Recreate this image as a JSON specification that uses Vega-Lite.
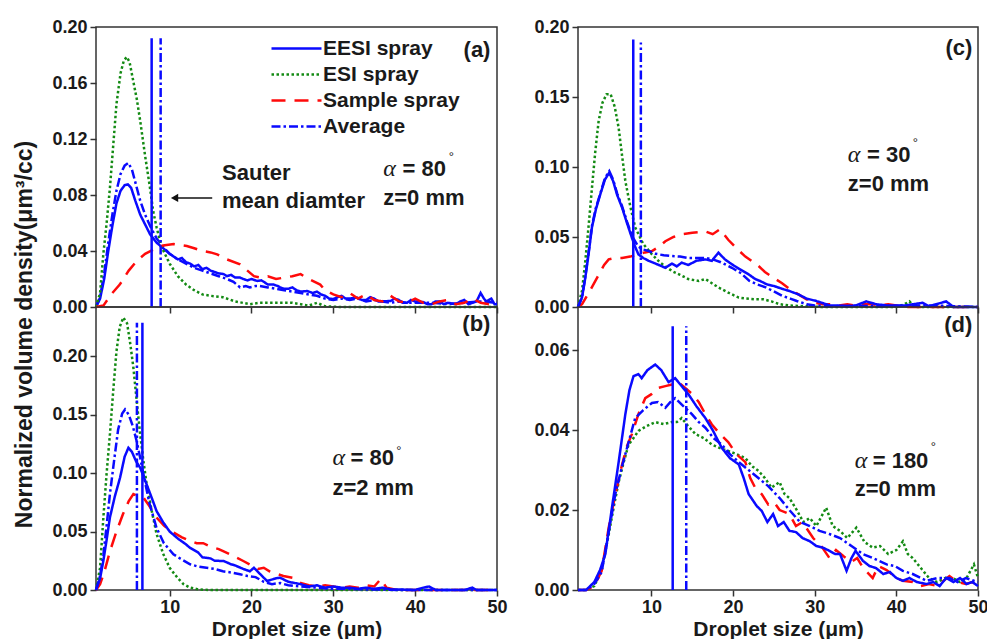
{
"$schema":"https://vega.github.io/schema/vega-lite/v6.json",
"padding":{"left":12,"top":17,"right":0,"bottom":0},
"background":"white",
"config":{
 "font":"Liberation Sans",
 "view":{"stroke":"#333","strokeWidth":1.5},
 "axis":{"domain":false,"grid":false,"tickColor":"#333","tickWidth":1.5,"tickSize":6,"labelFont":"Liberation Sans","labelFontSize":18,"labelFontWeight":"bold","labelColor":"#1a1a1a","labelPadding":3,"labelFlush":false,"labelOverlap":false,"titleFont":"Liberation Sans","titleFontSize":21,"titleFontWeight":"bold","titleColor":"#1a1a1a"},
 "axisX":{"labelPadding":2,"titlePadding":2},
 "line":{"strokeWidth":2.5},
 "text":{"font":"Liberation Sans","color":"#1a1a1a"}
},
"datasets":{
"a":[
{"s":"EESI spray","x":1,"y":0},{"s":"EESI spray","x":1.5,"y":0.006},{"s":"EESI spray","x":2,"y":0.02},{"s":"EESI spray","x":2.5,"y":0.04},{"s":"EESI spray","x":3,"y":0.058},{"s":"EESI spray","x":3.5,"y":0.074},{"s":"EESI spray","x":4,"y":0.083},{"s":"EESI spray","x":4.5,"y":0.087},{"s":"EESI spray","x":4.9,"y":0.0876},{"s":"EESI spray","x":5.3,"y":0.085},{"s":"EESI spray","x":5.8,"y":0.076},{"s":"EESI spray","x":6.4,"y":0.066},{"s":"EESI spray","x":7,"y":0.059},{"s":"EESI spray","x":7.6,"y":0.052},{"s":"EESI spray","x":8.4,"y":0.046},{"s":"EESI spray","x":9.2,"y":0.042},{"s":"EESI spray","x":10,"y":0.038},{"s":"EESI spray","x":10.5,"y":0.036},{"s":"EESI spray","x":11,"y":0.034},{"s":"EESI spray","x":11.5,"y":0.035},{"s":"EESI spray","x":12,"y":0.032},{"s":"EESI spray","x":12.5,"y":0.031},{"s":"EESI spray","x":13,"y":0.029},{"s":"EESI spray","x":13.5,"y":0.03},{"s":"EESI spray","x":14,"y":0.027},{"s":"EESI spray","x":14.5,"y":0.028},{"s":"EESI spray","x":15,"y":0.026},{"s":"EESI spray","x":15.5,"y":0.025},{"s":"EESI spray","x":16,"y":0.024},{"s":"EESI spray","x":16.6,"y":0.0235},{"s":"EESI spray","x":17,"y":0.022},{"s":"EESI spray","x":17.5,"y":0.023},{"s":"EESI spray","x":18,"y":0.021},{"s":"EESI spray","x":18.6,"y":0.021},{"s":"EESI spray","x":19,"y":0.02},{"s":"EESI spray","x":19.5,"y":0.019},{"s":"EESI spray","x":20,"y":0.02},{"s":"EESI spray","x":20.7,"y":0.0186},{"s":"EESI spray","x":21.2,"y":0.019},{"s":"EESI spray","x":21.5,"y":0.018},{"s":"EESI spray","x":22,"y":0.016},{"s":"EESI spray","x":22.7,"y":0.016},{"s":"EESI spray","x":23.2,"y":0.015},{"s":"EESI spray","x":23.5,"y":0.014},{"s":"EESI spray","x":24,"y":0.013},{"s":"EESI spray","x":24.5,"y":0.013},{"s":"EESI spray","x":25,"y":0.014},{"s":"EESI spray","x":25.5,"y":0.012},{"s":"EESI spray","x":26,"y":0.011},{"s":"EESI spray","x":26.8,"y":0.0114},{"s":"EESI spray","x":27.5,"y":0.01},{"s":"EESI spray","x":28,"y":0.011},{"s":"EESI spray","x":28.5,"y":0.009},{"s":"EESI spray","x":29,"y":0.008},{"s":"EESI spray","x":29.5,"y":0.006},{"s":"EESI spray","x":30,"y":0.0057},{"s":"EESI spray","x":30.5,"y":0.007},{"s":"EESI spray","x":31,"y":0.008},{"s":"EESI spray","x":31.5,"y":0.006},{"s":"EESI spray","x":32,"y":0.006},{"s":"EESI spray","x":32.9,"y":0.0067},{"s":"EESI spray","x":33.5,"y":0.005},{"s":"EESI spray","x":34,"y":0.005},{"s":"EESI spray","x":34.5,"y":0.007},{"s":"EESI spray","x":35,"y":0.006},{"s":"EESI spray","x":35.5,"y":0.004},{"s":"EESI spray","x":36,"y":0.004},{"s":"EESI spray","x":37,"y":0.0043},{"s":"EESI spray","x":37.5,"y":0.006},{"s":"EESI spray","x":38,"y":0.005},{"s":"EESI spray","x":38.5,"y":0.003},{"s":"EESI spray","x":39,"y":0.003},{"s":"EESI spray","x":39.5,"y":0.005},{"s":"EESI spray","x":40,"y":0.004},{"s":"EESI spray","x":41,"y":0.0035},{"s":"EESI spray","x":41.5,"y":0.002},{"s":"EESI spray","x":42,"y":0.002},{"s":"EESI spray","x":42.5,"y":0.004},{"s":"EESI spray","x":43,"y":0.004},{"s":"EESI spray","x":43.5,"y":0.002},{"s":"EESI spray","x":44,"y":0.003},{"s":"EESI spray","x":45,"y":0.002},{"s":"EESI spray","x":45.5,"y":0.004},{"s":"EESI spray","x":46,"y":0.005},{"s":"EESI spray","x":46.5,"y":0.002},{"s":"EESI spray","x":47,"y":0.003},{"s":"EESI spray","x":47.5,"y":0.004},{"s":"EESI spray","x":48,"y":0.01},{"s":"EESI spray","x":48.4,"y":0.006},{"s":"EESI spray","x":48.7,"y":0.004},{"s":"EESI spray","x":49.3,"y":0.006},{"s":"EESI spray","x":49.7,"y":0.002},{"s":"EESI spray","x":50,"y":0.002},
{"s":"Average","x":1,"y":0},{"s":"Average","x":1.5,"y":0.007},{"s":"Average","x":2,"y":0.024},{"s":"Average","x":2.5,"y":0.046},{"s":"Average","x":3,"y":0.066},{"s":"Average","x":3.5,"y":0.083},{"s":"Average","x":4,"y":0.095},{"s":"Average","x":4.5,"y":0.101},{"s":"Average","x":4.95,"y":0.103},{"s":"Average","x":5.4,"y":0.098},{"s":"Average","x":5.9,"y":0.087},{"s":"Average","x":6.4,"y":0.076},{"s":"Average","x":7,"y":0.066},{"s":"Average","x":7.6,"y":0.058},{"s":"Average","x":8.4,"y":0.049},{"s":"Average","x":9.2,"y":0.043},{"s":"Average","x":10,"y":0.038},{"s":"Average","x":11,"y":0.034},{"s":"Average","x":12,"y":0.031},{"s":"Average","x":13,"y":0.028},{"s":"Average","x":14,"y":0.026},{"s":"Average","x":15,"y":0.024},{"s":"Average","x":16,"y":0.022},{"s":"Average","x":17,"y":0.02},{"s":"Average","x":17.8,"y":0.018},{"s":"Average","x":18.6,"y":0.014},{"s":"Average","x":19.3,"y":0.015},{"s":"Average","x":19.8,"y":0.014},{"s":"Average","x":20.5,"y":0.015},{"s":"Average","x":21,"y":0.015},{"s":"Average","x":22,"y":0.014},{"s":"Average","x":23,"y":0.013},{"s":"Average","x":24,"y":0.012},{"s":"Average","x":25,"y":0.011},{"s":"Average","x":26,"y":0.01},{"s":"Average","x":27,"y":0.009},{"s":"Average","x":28,"y":0.008},{"s":"Average","x":29,"y":0.006},{"s":"Average","x":30,"y":0.005},{"s":"Average","x":31,"y":0.006},{"s":"Average","x":32,"y":0.005},{"s":"Average","x":33,"y":0.006},{"s":"Average","x":34,"y":0.004},{"s":"Average","x":35,"y":0.005},{"s":"Average","x":36,"y":0.004},{"s":"Average","x":37,"y":0.003},{"s":"Average","x":38,"y":0.004},{"s":"Average","x":39,"y":0.003},{"s":"Average","x":40,"y":0.003},{"s":"Average","x":42,"y":0.003},{"s":"Average","x":44,"y":0.002},{"s":"Average","x":46,"y":0.003},{"s":"Average","x":48,"y":0.004},{"s":"Average","x":50,"y":0.003},
{"s":"ESI spray","x":1,"y":0},{"s":"ESI spray","x":1.5,"y":0.01},{"s":"ESI spray","x":1.9,"y":0.038},{"s":"ESI spray","x":2.3,"y":0.06},{"s":"ESI spray","x":2.7,"y":0.085},{"s":"ESI spray","x":3.1,"y":0.115},{"s":"ESI spray","x":3.5,"y":0.145},{"s":"ESI spray","x":4,"y":0.167},{"s":"ESI spray","x":4.4,"y":0.176},{"s":"ESI spray","x":4.76,"y":0.1786},{"s":"ESI spray","x":5.1,"y":0.175},{"s":"ESI spray","x":5.5,"y":0.163},{"s":"ESI spray","x":6,"y":0.148},{"s":"ESI spray","x":6.4,"y":0.133},{"s":"ESI spray","x":7,"y":0.108},{"s":"ESI spray","x":7.6,"y":0.085},{"s":"ESI spray","x":8,"y":0.068},{"s":"ESI spray","x":8.4,"y":0.057},{"s":"ESI spray","x":9,"y":0.043},{"s":"ESI spray","x":10,"y":0.031},{"s":"ESI spray","x":11,"y":0.022},{"s":"ESI spray","x":12,"y":0.016},{"s":"ESI spray","x":13,"y":0.012},{"s":"ESI spray","x":14,"y":0.009},{"s":"ESI spray","x":15,"y":0.008},{"s":"ESI spray","x":16.5,"y":0.007},{"s":"ESI spray","x":18,"y":0.004},{"s":"ESI spray","x":19.8,"y":0.002},{"s":"ESI spray","x":21,"y":0.003},{"s":"ESI spray","x":23,"y":0.003},{"s":"ESI spray","x":25,"y":0.003},{"s":"ESI spray","x":26,"y":0.002},{"s":"ESI spray","x":27,"y":0.001},{"s":"ESI spray","x":28,"y":0.003},{"s":"ESI spray","x":29,"y":0.0005},{"s":"ESI spray","x":31,"y":0},{"s":"ESI spray","x":50,"y":0},
{"s":"Sample spray","x":1,"y":0},{"s":"Sample spray","x":1.9,"y":0.001},{"s":"Sample spray","x":2.5,"y":0.006},{"s":"Sample spray","x":3,"y":0.01},{"s":"Sample spray","x":3.9,"y":0.016},{"s":"Sample spray","x":5,"y":0.026},{"s":"Sample spray","x":6,"y":0.033},{"s":"Sample spray","x":7,"y":0.038},{"s":"Sample spray","x":8.4,"y":0.042},{"s":"Sample spray","x":9.2,"y":0.044},{"s":"Sample spray","x":10.5,"y":0.045},{"s":"Sample spray","x":12.1,"y":0.0436},{"s":"Sample spray","x":13,"y":0.042},{"s":"Sample spray","x":14,"y":0.04},{"s":"Sample spray","x":15,"y":0.039},{"s":"Sample spray","x":15.8,"y":0.0376},{"s":"Sample spray","x":17,"y":0.034},{"s":"Sample spray","x":18.6,"y":0.0305},{"s":"Sample spray","x":19.5,"y":0.026},{"s":"Sample spray","x":20.3,"y":0.022},{"s":"Sample spray","x":21.1,"y":0.021},{"s":"Sample spray","x":22,"y":0.022},{"s":"Sample spray","x":23,"y":0.02},{"s":"Sample spray","x":24,"y":0.021},{"s":"Sample spray","x":25,"y":0.022},{"s":"Sample spray","x":26,"y":0.0235},{"s":"Sample spray","x":27,"y":0.02},{"s":"Sample spray","x":28.4,"y":0.016},{"s":"Sample spray","x":29,"y":0.012},{"s":"Sample spray","x":30,"y":0.009},{"s":"Sample spray","x":31,"y":0.007},{"s":"Sample spray","x":32,"y":0.01},{"s":"Sample spray","x":33,"y":0.006},{"s":"Sample spray","x":34,"y":0.009},{"s":"Sample spray","x":35,"y":0.005},{"s":"Sample spray","x":36,"y":0.004},{"s":"Sample spray","x":37,"y":0.008},{"s":"Sample spray","x":38,"y":0.004},{"s":"Sample spray","x":39,"y":0.003},{"s":"Sample spray","x":40,"y":0.006},{"s":"Sample spray","x":41,"y":0.003},{"s":"Sample spray","x":42,"y":0.002},{"s":"Sample spray","x":43,"y":0.004},{"s":"Sample spray","x":44,"y":0.005},{"s":"Sample spray","x":45,"y":0.002},{"s":"Sample spray","x":46,"y":0.003},{"s":"Sample spray","x":47,"y":0.006},{"s":"Sample spray","x":48,"y":0.003},{"s":"Sample spray","x":49,"y":0.002},{"s":"Sample spray","x":50,"y":0.004}
],
"b":[
{"s":"ESI spray","x":1,"y":0},{"s":"ESI spray","x":1.5,"y":0.019},{"s":"ESI spray","x":1.9,"y":0.062},{"s":"ESI spray","x":2.3,"y":0.1},{"s":"ESI spray","x":2.7,"y":0.133},{"s":"ESI spray","x":3.1,"y":0.17},{"s":"ESI spray","x":3.5,"y":0.204},{"s":"ESI spray","x":3.9,"y":0.225},{"s":"ESI spray","x":4.34,"y":0.233},{"s":"ESI spray","x":4.8,"y":0.228},{"s":"ESI spray","x":5.2,"y":0.21},{"s":"ESI spray","x":5.57,"y":0.19},{"s":"ESI spray","x":6,"y":0.16},{"s":"ESI spray","x":6.4,"y":0.133},{"s":"ESI spray","x":6.8,"y":0.11},{"s":"ESI spray","x":7.2,"y":0.09},{"s":"ESI spray","x":7.8,"y":0.068},{"s":"ESI spray","x":8.4,"y":0.048},{"s":"ESI spray","x":9.2,"y":0.031},{"s":"ESI spray","x":10,"y":0.019},{"s":"ESI spray","x":11,"y":0.01},{"s":"ESI spray","x":11.7,"y":0.005},{"s":"ESI spray","x":12.5,"y":0.002},{"s":"ESI spray","x":13.5,"y":0.0005},{"s":"ESI spray","x":15,"y":0},{"s":"ESI spray","x":50,"y":0},
{"s":"Sample spray","x":1,"y":0},{"s":"Sample spray","x":1.5,"y":0.005},{"s":"Sample spray","x":2,"y":0.015},{"s":"Sample spray","x":2.7,"y":0.033},{"s":"Sample spray","x":3.5,"y":0.05},{"s":"Sample spray","x":4.3,"y":0.065},{"s":"Sample spray","x":5,"y":0.076},{"s":"Sample spray","x":5.57,"y":0.082},{"s":"Sample spray","x":6.2,"y":0.08},{"s":"Sample spray","x":6.8,"y":0.079},{"s":"Sample spray","x":7.5,"y":0.072},{"s":"Sample spray","x":8.4,"y":0.062},{"s":"Sample spray","x":9.3,"y":0.055},{"s":"Sample spray","x":10.5,"y":0.049},{"s":"Sample spray","x":11.5,"y":0.045},{"s":"Sample spray","x":12.5,"y":0.042},{"s":"Sample spray","x":13.3,"y":0.04},{"s":"Sample spray","x":14.1,"y":0.04},{"s":"Sample spray","x":15,"y":0.037},{"s":"Sample spray","x":16,"y":0.035},{"s":"Sample spray","x":16.6,"y":0.033},{"s":"Sample spray","x":17.8,"y":0.029},{"s":"Sample spray","x":19,"y":0.0248},{"s":"Sample spray","x":20,"y":0.021},{"s":"Sample spray","x":20.8,"y":0.018},{"s":"Sample spray","x":21.5,"y":0.019},{"s":"Sample spray","x":22.2,"y":0.016},{"s":"Sample spray","x":23,"y":0.014},{"s":"Sample spray","x":23.9,"y":0.012},{"s":"Sample spray","x":25,"y":0.0105},{"s":"Sample spray","x":26,"y":0.006},{"s":"Sample spray","x":27,"y":0.004},{"s":"Sample spray","x":28,"y":0.003},{"s":"Sample spray","x":29,"y":0.004},{"s":"Sample spray","x":30,"y":0.003},{"s":"Sample spray","x":31,"y":0.002},{"s":"Sample spray","x":32,"y":0.003},{"s":"Sample spray","x":33,"y":0.002},{"s":"Sample spray","x":34,"y":0.004},{"s":"Sample spray","x":35,"y":0.003},{"s":"Sample spray","x":35.8,"y":0.0094},{"s":"Sample spray","x":36.5,"y":0.002},{"s":"Sample spray","x":37.5,"y":0.0005},{"s":"Sample spray","x":38,"y":0},{"s":"Sample spray","x":50,"y":0},
{"s":"Average","x":1,"y":0},{"s":"Average","x":1.5,"y":0.012},{"s":"Average","x":1.9,"y":0.03},{"s":"Average","x":2.3,"y":0.055},{"s":"Average","x":2.7,"y":0.082},{"s":"Average","x":3.2,"y":0.11},{"s":"Average","x":3.7,"y":0.137},{"s":"Average","x":4.2,"y":0.151},{"s":"Average","x":4.55,"y":0.1544},{"s":"Average","x":5,"y":0.15},{"s":"Average","x":5.5,"y":0.14},{"s":"Average","x":5.98,"y":0.127},{"s":"Average","x":6.4,"y":0.113},{"s":"Average","x":6.8,"y":0.099},{"s":"Average","x":7.5,"y":0.075},{"s":"Average","x":8.4,"y":0.053},{"s":"Average","x":9.3,"y":0.04},{"s":"Average","x":10.46,"y":0.0305},{"s":"Average","x":11.5,"y":0.026},{"s":"Average","x":12.5,"y":0.022},{"s":"Average","x":13.5,"y":0.02},{"s":"Average","x":14.5,"y":0.019},{"s":"Average","x":15.5,"y":0.018},{"s":"Average","x":16.5,"y":0.016},{"s":"Average","x":17.5,"y":0.015},{"s":"Average","x":18.6,"y":0.0134},{"s":"Average","x":19.5,"y":0.012},{"s":"Average","x":20.5,"y":0.011},{"s":"Average","x":21.5,"y":0.007},{"s":"Average","x":22.5,"y":0.005},{"s":"Average","x":23.5,"y":0.006},{"s":"Average","x":24.5,"y":0.004},{"s":"Average","x":26,"y":0.003},{"s":"Average","x":28,"y":0.002},{"s":"Average","x":30,"y":0.001},{"s":"Average","x":32,"y":0.001},{"s":"Average","x":34,"y":0.0005},{"s":"Average","x":36,"y":0.0005},{"s":"Average","x":38,"y":0},{"s":"Average","x":50,"y":0},
{"s":"EESI spray","x":1,"y":0},{"s":"EESI spray","x":1.5,"y":0.01},{"s":"EESI spray","x":1.9,"y":0.025},{"s":"EESI spray","x":2.3,"y":0.043},{"s":"EESI spray","x":2.7,"y":0.062},{"s":"EESI spray","x":3.3,"y":0.08},{"s":"EESI spray","x":3.94,"y":0.096},{"s":"EESI spray","x":4.5,"y":0.114},{"s":"EESI spray","x":4.96,"y":0.1216},{"s":"EESI spray","x":5.4,"y":0.118},{"s":"EESI spray","x":5.9,"y":0.11},{"s":"EESI spray","x":6.4,"y":0.1045},{"s":"EESI spray","x":7.2,"y":0.09},{"s":"EESI spray","x":7.8,"y":0.079},{"s":"EESI spray","x":8.4,"y":0.0675},{"s":"EESI spray","x":9.2,"y":0.058},{"s":"EESI spray","x":10,"y":0.05},{"s":"EESI spray","x":11,"y":0.044},{"s":"EESI spray","x":12,"y":0.039},{"s":"EESI spray","x":12.5,"y":0.036},{"s":"EESI spray","x":13.5,"y":0.032},{"s":"EESI spray","x":14,"y":0.028},{"s":"EESI spray","x":15,"y":0.027},{"s":"EESI spray","x":15.5,"y":0.025},{"s":"EESI spray","x":16.6,"y":0.0248},{"s":"EESI spray","x":17.5,"y":0.022},{"s":"EESI spray","x":18,"y":0.021},{"s":"EESI spray","x":19,"y":0.018},{"s":"EESI spray","x":19.8,"y":0.016},{"s":"EESI spray","x":20.3,"y":0.019},{"s":"EESI spray","x":21,"y":0.014},{"s":"EESI spray","x":21.9,"y":0.0077},{"s":"EESI spray","x":23,"y":0.01},{"s":"EESI spray","x":23.5,"y":0.0105},{"s":"EESI spray","x":24.5,"y":0.007},{"s":"EESI spray","x":26,"y":0.005},{"s":"EESI spray","x":27,"y":0.003},{"s":"EESI spray","x":28,"y":0.004},{"s":"EESI spray","x":29,"y":0.002},{"s":"EESI spray","x":30,"y":0.003},{"s":"EESI spray","x":31,"y":0.002},{"s":"EESI spray","x":32,"y":0.002},{"s":"EESI spray","x":33,"y":0.001},{"s":"EESI spray","x":34,"y":0.002},{"s":"EESI spray","x":35,"y":0.001},{"s":"EESI spray","x":36,"y":0.002},{"s":"EESI spray","x":37,"y":0.0005},{"s":"EESI spray","x":38,"y":0.0005},{"s":"EESI spray","x":40,"y":0},{"s":"EESI spray","x":41,"y":0.002},{"s":"EESI spray","x":41.7,"y":0.003},{"s":"EESI spray","x":42.5,"y":0},{"s":"EESI spray","x":46,"y":0},{"s":"EESI spray","x":47,"y":0.002},{"s":"EESI spray","x":47.5,"y":0},{"s":"EESI spray","x":50,"y":0}
],
"c":[
{"s":"ESI spray","x":1,"y":0},{"s":"ESI spray","x":1.5,"y":0.012},{"s":"ESI spray","x":1.9,"y":0.033},{"s":"ESI spray","x":2.3,"y":0.058},{"s":"ESI spray","x":2.71,"y":0.085},{"s":"ESI spray","x":3.1,"y":0.11},{"s":"ESI spray","x":3.53,"y":0.133},{"s":"ESI spray","x":4,"y":0.146},{"s":"ESI spray","x":4.5,"y":0.152},{"s":"ESI spray","x":5,"y":0.152},{"s":"ESI spray","x":5.5,"y":0.143},{"s":"ESI spray","x":5.98,"y":0.128},{"s":"ESI spray","x":6.4,"y":0.108},{"s":"ESI spray","x":6.8,"y":0.09},{"s":"ESI spray","x":7.4,"y":0.072},{"s":"ESI spray","x":8,"y":0.057},{"s":"ESI spray","x":9,"y":0.045},{"s":"ESI spray","x":10.06,"y":0.0376},{"s":"ESI spray","x":11,"y":0.032},{"s":"ESI spray","x":12.5,"y":0.0257},{"s":"ESI spray","x":13.5,"y":0.023},{"s":"ESI spray","x":14.5,"y":0.02},{"s":"ESI spray","x":15.8,"y":0.0186},{"s":"ESI spray","x":16.6,"y":0.02},{"s":"ESI spray","x":17.4,"y":0.017},{"s":"ESI spray","x":18.2,"y":0.014},{"s":"ESI spray","x":19.5,"y":0.01},{"s":"ESI spray","x":20.7,"y":0.0067},{"s":"ESI spray","x":21.6,"y":0.006},{"s":"ESI spray","x":22.7,"y":0.0055},{"s":"ESI spray","x":23.7,"y":0.0055},{"s":"ESI spray","x":24.7,"y":0.004},{"s":"ESI spray","x":25.7,"y":0.002},{"s":"ESI spray","x":27,"y":0.001},{"s":"ESI spray","x":29,"y":0.0005},{"s":"ESI spray","x":31,"y":0},{"s":"ESI spray","x":40,"y":0},{"s":"ESI spray","x":41,"y":0.002},{"s":"ESI spray","x":41.6,"y":0.004},{"s":"ESI spray","x":42.2,"y":0},{"s":"ESI spray","x":50,"y":0},
{"s":"Sample spray","x":1,"y":0},{"s":"Sample spray","x":1.5,"y":0.002},{"s":"Sample spray","x":2.5,"y":0.012},{"s":"Sample spray","x":3.53,"y":0.023},{"s":"Sample spray","x":4.2,"y":0.03},{"s":"Sample spray","x":4.76,"y":0.034},{"s":"Sample spray","x":5.5,"y":0.035},{"s":"Sample spray","x":6.4,"y":0.035},{"s":"Sample spray","x":7.4,"y":0.036},{"s":"Sample spray","x":8.4,"y":0.0376},{"s":"Sample spray","x":9.2,"y":0.039},{"s":"Sample spray","x":10.06,"y":0.04},{"s":"Sample spray","x":10.9,"y":0.043},{"s":"Sample spray","x":11.7,"y":0.047},{"s":"Sample spray","x":12.7,"y":0.05},{"s":"Sample spray","x":13.7,"y":0.052},{"s":"Sample spray","x":15,"y":0.053},{"s":"Sample spray","x":16.6,"y":0.054},{"s":"Sample spray","x":17.5,"y":0.052},{"s":"Sample spray","x":18.4,"y":0.0555},{"s":"Sample spray","x":19.4,"y":0.048},{"s":"Sample spray","x":20.4,"y":0.042},{"s":"Sample spray","x":21.5,"y":0.036},{"s":"Sample spray","x":22.9,"y":0.0305},{"s":"Sample spray","x":23.9,"y":0.025},{"s":"Sample spray","x":24.9,"y":0.021},{"s":"Sample spray","x":26,"y":0.017},{"s":"Sample spray","x":27,"y":0.0126},{"s":"Sample spray","x":28,"y":0.009},{"s":"Sample spray","x":29,"y":0.0055},{"s":"Sample spray","x":30,"y":0.003},{"s":"Sample spray","x":31,"y":0.002},{"s":"Sample spray","x":32,"y":0.002},{"s":"Sample spray","x":33,"y":0.001},{"s":"Sample spray","x":34,"y":0.002},{"s":"Sample spray","x":35,"y":0.001},{"s":"Sample spray","x":36,"y":0.002},{"s":"Sample spray","x":37,"y":0.002},{"s":"Sample spray","x":38,"y":0.001},{"s":"Sample spray","x":39,"y":0.002},{"s":"Sample spray","x":40,"y":0.001},{"s":"Sample spray","x":41,"y":0},{"s":"Sample spray","x":50,"y":0},
{"s":"Average","x":1,"y":0},{"s":"Average","x":1.5,"y":0.007},{"s":"Average","x":1.9,"y":0.022},{"s":"Average","x":2.3,"y":0.039},{"s":"Average","x":2.71,"y":0.058},{"s":"Average","x":3.2,"y":0.071},{"s":"Average","x":3.73,"y":0.081},{"s":"Average","x":4.3,"y":0.092},{"s":"Average","x":4.83,"y":0.097},{"s":"Average","x":5.3,"y":0.091},{"s":"Average","x":5.8,"y":0.081},{"s":"Average","x":6.4,"y":0.072},{"s":"Average","x":7,"y":0.061},{"s":"Average","x":7.6,"y":0.051},{"s":"Average","x":8.4,"y":0.043},{"s":"Average","x":9,"y":0.041},{"s":"Average","x":9.65,"y":0.04},{"s":"Average","x":10.5,"y":0.038},{"s":"Average","x":11.5,"y":0.037},{"s":"Average","x":12.5,"y":0.0364},{"s":"Average","x":13.5,"y":0.036},{"s":"Average","x":14.5,"y":0.035},{"s":"Average","x":15.5,"y":0.035},{"s":"Average","x":16.6,"y":0.035},{"s":"Average","x":17.5,"y":0.034},{"s":"Average","x":18.5,"y":0.032},{"s":"Average","x":19.85,"y":0.028},{"s":"Average","x":21,"y":0.024},{"s":"Average","x":22,"y":0.0186},{"s":"Average","x":23,"y":0.016},{"s":"Average","x":24,"y":0.014},{"s":"Average","x":24.9,"y":0.0114},{"s":"Average","x":26,"y":0.008},{"s":"Average","x":27,"y":0.006},{"s":"Average","x":27.8,"y":0.0043},{"s":"Average","x":29,"y":0.002},{"s":"Average","x":30,"y":0.001},{"s":"Average","x":32,"y":0.0005},{"s":"Average","x":35,"y":0.001},{"s":"Average","x":38,"y":0.0005},{"s":"Average","x":42,"y":0.001},{"s":"Average","x":45,"y":0.001},{"s":"Average","x":50,"y":0},
{"s":"EESI spray","x":1,"y":0},{"s":"EESI spray","x":1.5,"y":0.007},{"s":"EESI spray","x":1.9,"y":0.021},{"s":"EESI spray","x":2.3,"y":0.038},{"s":"EESI spray","x":2.71,"y":0.057},{"s":"EESI spray","x":3.2,"y":0.07},{"s":"EESI spray","x":3.73,"y":0.0805},{"s":"EESI spray","x":4.3,"y":0.091},{"s":"EESI spray","x":4.83,"y":0.096},{"s":"EESI spray","x":5.3,"y":0.09},{"s":"EESI spray","x":5.8,"y":0.08},{"s":"EESI spray","x":6.4,"y":0.071},{"s":"EESI spray","x":7,"y":0.06},{"s":"EESI spray","x":7.6,"y":0.0495},{"s":"EESI spray","x":8,"y":0.043},{"s":"EESI spray","x":8.4,"y":0.0376},{"s":"EESI spray","x":9,"y":0.035},{"s":"EESI spray","x":9.65,"y":0.033},{"s":"EESI spray","x":10.5,"y":0.031},{"s":"EESI spray","x":11.7,"y":0.028},{"s":"EESI spray","x":12.5,"y":0.031},{"s":"EESI spray","x":13.1,"y":0.029},{"s":"EESI spray","x":13.7,"y":0.0317},{"s":"EESI spray","x":14.5,"y":0.03},{"s":"EESI spray","x":15.5,"y":0.033},{"s":"EESI spray","x":16.6,"y":0.034},{"s":"EESI spray","x":17.4,"y":0.033},{"s":"EESI spray","x":18.2,"y":0.0388},{"s":"EESI spray","x":19,"y":0.034},{"s":"EESI spray","x":19.85,"y":0.0305},{"s":"EESI spray","x":20.8,"y":0.027},{"s":"EESI spray","x":21.9,"y":0.0233},{"s":"EESI spray","x":22.7,"y":0.02},{"s":"EESI spray","x":23.3,"y":0.0186},{"s":"EESI spray","x":24.2,"y":0.016},{"s":"EESI spray","x":25,"y":0.015},{"s":"EESI spray","x":26,"y":0.013},{"s":"EESI spray","x":26.9,"y":0.0114},{"s":"EESI spray","x":28,"y":0.009},{"s":"EESI spray","x":29,"y":0.006},{"s":"EESI spray","x":30.2,"y":0.0043},{"s":"EESI spray","x":31.9,"y":0.001},{"s":"EESI spray","x":33,"y":0.001},{"s":"EESI spray","x":34,"y":0.0005},{"s":"EESI spray","x":35,"y":0.001},{"s":"EESI spray","x":36.3,"y":0.004},{"s":"EESI spray","x":37.5,"y":0.002},{"s":"EESI spray","x":39,"y":0.001},{"s":"EESI spray","x":41,"y":0.001},{"s":"EESI spray","x":43.2,"y":0.003},{"s":"EESI spray","x":44,"y":0.0005},{"s":"EESI spray","x":46.1,"y":0.004},{"s":"EESI spray","x":47,"y":0},{"s":"EESI spray","x":50,"y":0}
],
"d":[
{"s":"ESI spray","x":1,"y":0},{"s":"ESI spray","x":2,"y":0},{"s":"ESI spray","x":3,"y":0.001},{"s":"ESI spray","x":3.9,"y":0.005},{"s":"ESI spray","x":4.76,"y":0.0139},{"s":"ESI spray","x":5.4,"y":0.021},{"s":"ESI spray","x":5.98,"y":0.027},{"s":"ESI spray","x":6.6,"y":0.032},{"s":"ESI spray","x":7.2,"y":0.0364},{"s":"ESI spray","x":7.8,"y":0.038},{"s":"ESI spray","x":8.4,"y":0.0398},{"s":"ESI spray","x":9.4,"y":0.041},{"s":"ESI spray","x":10.46,"y":0.042},{"s":"ESI spray","x":11.5,"y":0.0415},{"s":"ESI spray","x":12.5,"y":0.042},{"s":"ESI spray","x":13.1,"y":0.042},{"s":"ESI spray","x":13.7,"y":0.043},{"s":"ESI spray","x":14.5,"y":0.041},{"s":"ESI spray","x":15.4,"y":0.039},{"s":"ESI spray","x":16.4,"y":0.038},{"s":"ESI spray","x":17.4,"y":0.0364},{"s":"ESI spray","x":18.4,"y":0.0355},{"s":"ESI spray","x":19.4,"y":0.0348},{"s":"ESI spray","x":20.4,"y":0.034},{"s":"ESI spray","x":21.5,"y":0.033},{"s":"ESI spray","x":22.3,"y":0.031},{"s":"ESI spray","x":23.1,"y":0.0298},{"s":"ESI spray","x":23.9,"y":0.028},{"s":"ESI spray","x":24.7,"y":0.0256},{"s":"ESI spray","x":25.7,"y":0.027},{"s":"ESI spray","x":26.3,"y":0.024},{"s":"ESI spray","x":26.9,"y":0.023},{"s":"ESI spray","x":27.8,"y":0.02},{"s":"ESI spray","x":28.6,"y":0.017},{"s":"ESI spray","x":29.4,"y":0.018},{"s":"ESI spray","x":30.2,"y":0.016},{"s":"ESI spray","x":31.4,"y":0.0206},{"s":"ESI spray","x":32.2,"y":0.016},{"s":"ESI spray","x":33.1,"y":0.0148},{"s":"ESI spray","x":34,"y":0.013},{"s":"ESI spray","x":35.1,"y":0.0156},{"s":"ESI spray","x":36.1,"y":0.012},{"s":"ESI spray","x":37.1,"y":0.0106},{"s":"ESI spray","x":38,"y":0.011},{"s":"ESI spray","x":39,"y":0.009},{"s":"ESI spray","x":40,"y":0.01},{"s":"ESI spray","x":40.8,"y":0.0122},{"s":"ESI spray","x":41.4,"y":0.009},{"s":"ESI spray","x":42,"y":0.008},{"s":"ESI spray","x":42.8,"y":0.006},{"s":"ESI spray","x":44,"y":0.003},{"s":"ESI spray","x":45,"y":0.002},{"s":"ESI spray","x":46,"y":0.003},{"s":"ESI spray","x":46.9,"y":0.003},{"s":"ESI spray","x":47.8,"y":0.002},{"s":"ESI spray","x":48.6,"y":0.003},{"s":"ESI spray","x":49.5,"y":0.0064},{"s":"ESI spray","x":50,"y":0.003},
{"s":"Sample spray","x":1,"y":0},{"s":"Sample spray","x":2,"y":0},{"s":"Sample spray","x":3,"y":0.001},{"s":"Sample spray","x":3.9,"y":0.0048},{"s":"Sample spray","x":4.76,"y":0.0156},{"s":"Sample spray","x":5.57,"y":0.024},{"s":"Sample spray","x":6.4,"y":0.0314},{"s":"Sample spray","x":7,"y":0.036},{"s":"Sample spray","x":7.6,"y":0.039},{"s":"Sample spray","x":8.4,"y":0.044},{"s":"Sample spray","x":9.24,"y":0.048},{"s":"Sample spray","x":10,"y":0.049},{"s":"Sample spray","x":10.9,"y":0.0506},{"s":"Sample spray","x":11.7,"y":0.051},{"s":"Sample spray","x":12.5,"y":0.0514},{"s":"Sample spray","x":13.3,"y":0.052},{"s":"Sample spray","x":14.1,"y":0.0506},{"s":"Sample spray","x":15,"y":0.049},{"s":"Sample spray","x":15.8,"y":0.047},{"s":"Sample spray","x":16.6,"y":0.044},{"s":"Sample spray","x":17.4,"y":0.0414},{"s":"Sample spray","x":18.4,"y":0.039},{"s":"Sample spray","x":19.4,"y":0.037},{"s":"Sample spray","x":20.4,"y":0.034},{"s":"Sample spray","x":21.5,"y":0.032},{"s":"Sample spray","x":22.1,"y":0.028},{"s":"Sample spray","x":22.7,"y":0.0256},{"s":"Sample spray","x":23.5,"y":0.024},{"s":"Sample spray","x":24.3,"y":0.0214},{"s":"Sample spray","x":25,"y":0.022},{"s":"Sample spray","x":25.7,"y":0.02},{"s":"Sample spray","x":26.9,"y":0.019},{"s":"Sample spray","x":27.7,"y":0.016},{"s":"Sample spray","x":28.5,"y":0.017},{"s":"Sample spray","x":29.8,"y":0.013},{"s":"Sample spray","x":30.8,"y":0.011},{"s":"Sample spray","x":31.8,"y":0.008},{"s":"Sample spray","x":32.6,"y":0.01},{"s":"Sample spray","x":33.5,"y":0.0085},{"s":"Sample spray","x":34.5,"y":0.007},{"s":"Sample spray","x":35.2,"y":0.008},{"s":"Sample spray","x":35.9,"y":0.0056},{"s":"Sample spray","x":37.1,"y":0.003},{"s":"Sample spray","x":37.8,"y":0.006},{"s":"Sample spray","x":38.8,"y":0.005},{"s":"Sample spray","x":40,"y":0.003},{"s":"Sample spray","x":40.8,"y":0.0023},{"s":"Sample spray","x":42,"y":0.002},{"s":"Sample spray","x":43,"y":0.001},{"s":"Sample spray","x":44,"y":0.0015},{"s":"Sample spray","x":45,"y":0.001},{"s":"Sample spray","x":46.5,"y":0.0035},{"s":"Sample spray","x":47.5,"y":0.002},{"s":"Sample spray","x":48.5,"y":0.0015},{"s":"Sample spray","x":49.3,"y":0.002},{"s":"Sample spray","x":50,"y":0.001},
{"s":"Average","x":1,"y":0},{"s":"Average","x":2,"y":0},{"s":"Average","x":3,"y":0.0015},{"s":"Average","x":3.9,"y":0.0045},{"s":"Average","x":4.76,"y":0.0145},{"s":"Average","x":5.57,"y":0.024},{"s":"Average","x":6.4,"y":0.031},{"s":"Average","x":7.2,"y":0.037},{"s":"Average","x":8,"y":0.043},{"s":"Average","x":9,"y":0.045},{"s":"Average","x":10.06,"y":0.0468},{"s":"Average","x":10.8,"y":0.047},{"s":"Average","x":11.7,"y":0.0456},{"s":"Average","x":12.3,"y":0.047},{"s":"Average","x":12.9,"y":0.048},{"s":"Average","x":13.9,"y":0.046},{"s":"Average","x":14.95,"y":0.044},{"s":"Average","x":15.8,"y":0.042},{"s":"Average","x":16.6,"y":0.0406},{"s":"Average","x":17.6,"y":0.038},{"s":"Average","x":18.6,"y":0.0364},{"s":"Average","x":19.6,"y":0.034},{"s":"Average","x":20.7,"y":0.032},{"s":"Average","x":21.9,"y":0.03},{"s":"Average","x":23.1,"y":0.028},{"s":"Average","x":24.3,"y":0.026},{"s":"Average","x":25.7,"y":0.023},{"s":"Average","x":26.9,"y":0.02},{"s":"Average","x":28.2,"y":0.017},{"s":"Average","x":29.4,"y":0.016},{"s":"Average","x":30.6,"y":0.0148},{"s":"Average","x":31.8,"y":0.014},{"s":"Average","x":33.1,"y":0.013},{"s":"Average","x":34.5,"y":0.011},{"s":"Average","x":35.9,"y":0.009},{"s":"Average","x":37.1,"y":0.008},{"s":"Average","x":38.8,"y":0.0064},{"s":"Average","x":39.8,"y":0.006},{"s":"Average","x":40.8,"y":0.0048},{"s":"Average","x":42,"y":0.004},{"s":"Average","x":43.7,"y":0.0023},{"s":"Average","x":45,"y":0.003},{"s":"Average","x":46.5,"y":0.003},{"s":"Average","x":47.5,"y":0.002},{"s":"Average","x":48.5,"y":0.003},{"s":"Average","x":49.5,"y":0.0023},{"s":"Average","x":50,"y":0.002},
{"s":"EESI spray","x":1,"y":0},{"s":"EESI spray","x":2,"y":0},{"s":"EESI spray","x":2.3,"y":0.0006},{"s":"EESI spray","x":3,"y":0.002},{"s":"EESI spray","x":3.7,"y":0.005},{"s":"EESI spray","x":4.34,"y":0.0089},{"s":"EESI spray","x":5.16,"y":0.0206},{"s":"EESI spray","x":5.98,"y":0.032},{"s":"EESI spray","x":6.8,"y":0.044},{"s":"EESI spray","x":7.3,"y":0.05},{"s":"EESI spray","x":7.8,"y":0.0535},{"s":"EESI spray","x":8.4,"y":0.054},{"s":"EESI spray","x":8.8,"y":0.053},{"s":"EESI spray","x":9.5,"y":0.055},{"s":"EESI spray","x":10.46,"y":0.0564},{"s":"EESI spray","x":11.2,"y":0.055},{"s":"EESI spray","x":12.1,"y":0.052},{"s":"EESI spray","x":12.9,"y":0.053},{"s":"EESI spray","x":13.7,"y":0.051},{"s":"EESI spray","x":14.55,"y":0.0489},{"s":"EESI spray","x":15.5,"y":0.046},{"s":"EESI spray","x":16.6,"y":0.043},{"s":"EESI spray","x":17.5,"y":0.04},{"s":"EESI spray","x":18.6,"y":0.0356},{"s":"EESI spray","x":19.6,"y":0.033},{"s":"EESI spray","x":20.7,"y":0.0314},{"s":"EESI spray","x":21.3,"y":0.028},{"s":"EESI spray","x":21.9,"y":0.024},{"s":"EESI spray","x":22.9,"y":0.021},{"s":"EESI spray","x":23.5,"y":0.0198},{"s":"EESI spray","x":24.2,"y":0.017},{"s":"EESI spray","x":24.9,"y":0.019},{"s":"EESI spray","x":25.5,"y":0.016},{"s":"EESI spray","x":26.2,"y":0.017},{"s":"EESI spray","x":26.9,"y":0.0148},{"s":"EESI spray","x":27.7,"y":0.0145},{"s":"EESI spray","x":28.5,"y":0.013},{"s":"EESI spray","x":29.4,"y":0.0122},{"s":"EESI spray","x":30.2,"y":0.011},{"s":"EESI spray","x":31,"y":0.0106},{"s":"EESI spray","x":31.8,"y":0.0098},{"s":"EESI spray","x":32.5,"y":0.009},{"s":"EESI spray","x":33.1,"y":0.009},{"s":"EESI spray","x":33.9,"y":0.0048},{"s":"EESI spray","x":34.5,"y":0.008},{"s":"EESI spray","x":35,"y":0.0098},{"s":"EESI spray","x":35.9,"y":0.0073},{"s":"EESI spray","x":36.7,"y":0.006},{"s":"EESI spray","x":37.5,"y":0.0055},{"s":"EESI spray","x":38.4,"y":0.004},{"s":"EESI spray","x":39.2,"y":0.0045},{"s":"EESI spray","x":40,"y":0.003},{"s":"EESI spray","x":40.8,"y":0.0023},{"s":"EESI spray","x":41.6,"y":0.003},{"s":"EESI spray","x":42.5,"y":0.002},{"s":"EESI spray","x":43.7,"y":0.0015},{"s":"EESI spray","x":44.5,"y":0.002},{"s":"EESI spray","x":45.3,"y":0.001},{"s":"EESI spray","x":46.1,"y":0.003},{"s":"EESI spray","x":47,"y":0.002},{"s":"EESI spray","x":47.8,"y":0.003},{"s":"EESI spray","x":48.6,"y":0.0015},{"s":"EESI spray","x":49.3,"y":0.002},{"s":"EESI spray","x":50,"y":0.001}
],
"ra":[{"s":"EESI spray","x":7.8,"y":0,"y2":0.192},{"s":"Average","x":8.9,"y":0,"y2":0.192}],
"rb":[{"s":"EESI spray","x":6.67,"y":0,"y2":0.2285},{"s":"Average","x":6.0,"y":0,"y2":0.2285}],
"rc":[{"s":"EESI spray","x":7.77,"y":0,"y2":0.191},{"s":"Average","x":8.7,"y":0,"y2":0.189}],
"rd":[{"s":"EESI spray","x":12.6,"y":0,"y2":0.066},{"s":"Average","x":14.26,"y":0,"y2":0.066}],
"na":[{"k":"tag","t":"(a)","x":49.2,"y":0.1836},{"k":"note","t":"Sauter","x":16.4,"y":0.0957},{"k":"note","t":"mean diamter","x":16.4,"y":0.0757},{"k":"greek","t":"α","x":36.1,"y":0.0986},{"k":"note","t":"= 80","x":38.45,"y":0.0986},{"k":"deg","t":"°","x":44.1,"y":0.1075},{"k":"note","t":"z=0 mm","x":36.1,"y":0.0779}],
"nb":[{"k":"tag","t":"(b)","x":49.2,"y":0.2274},{"k":"greek","t":"α","x":29.9,"y":0.1128},{"k":"note","t":"= 80","x":32.1,"y":0.1128},{"k":"deg","t":"°","x":37.7,"y":0.1185},{"k":"note","t":"z=2 mm","x":29.9,"y":0.0872}],
"nc":[{"k":"tag","t":"(c)","x":49.3,"y":0.185},{"k":"greek","t":"α","x":34.05,"y":0.1086},{"k":"note","t":"= 30","x":36.4,"y":0.1086},{"k":"deg","t":"°","x":42.0,"y":0.1175},{"k":"note","t":"z=0 mm","x":34.05,"y":0.0879}],
"nd":[{"k":"tag","t":"(d)","x":49.3,"y":0.06625},{"k":"greek","t":"α","x":34.9,"y":0.03225},{"k":"note","t":"= 180","x":37.1,"y":0.03225},{"k":"deg","t":"°","x":44.2,"y":0.0358},{"k":"note","t":"z=0 mm","x":34.9,"y":0.02525}],
"arrow":[{"x":10.6,"x2":15.2,"y":0.0779}]
},
"columns":2,
"spacing":{"row":0,"column":81},
"bounds":"flush",
"resolve":{"scale":{"x":"independent","y":"independent","color":"independent","strokeDash":"independent"},"legend":{"color":"independent","strokeDash":"independent"},"axis":{"x":"independent","y":"independent"}},
"concat":[
 {"width":401,"height":280,
  "layer":[
   {"data":{"name":"a"},"mark":{"type":"line"},
    "encoding":{
     "x":{"field":"x","type":"quantitative","scale":{"domain":[1,50],"nice":false,"zero":false},"axis":{"values":[10,20,30,40,50],"labels":false,"title":null}},
     "y":{"field":"y","type":"quantitative","scale":{"domain":[0,0.2],"nice":false},"axis":{"values":[0,0.04,0.08,0.12,0.16,0.2],"format":".2f","title":"Normalized volume density(μm³/cc)","titleFontSize":23,"titleX":-72,"titleY":307,"titleAngle":-90,"titleAlign":"center","titleBaseline":"middle"}},
     "color":{"field":"s","type":"nominal","scale":{"domain":["EESI spray","ESI spray","Sample spray","Average"],"range":["#0a0aff","#138a13","#ff0a0a","#0a0aff"]},
       "legend":{"orient":"none","legendX":189,"legendY":10,"title":null,"symbolType":"M-2.5,0H2.5","symbolSize":400,"symbolStrokeWidth":2.5,"labelFontSize":21,"labelFontWeight":"bold","labelFont":"Liberation Sans","labelColor":"#1a1a1a","labelOffset":15,"rowPadding":4,"padding":0}},
     "strokeDash":{"field":"s","type":"nominal","scale":{"domain":["EESI spray","ESI spray","Sample spray","Average"],"range":[[1,0],[2.5,2.5],[14,9],[9,3,2.5,3]]},
       "legend":{"orient":"none","legendX":189,"legendY":10,"title":null,"symbolType":"M-2.5,0H2.5","symbolSize":400,"symbolStrokeWidth":2.5,"labelFontSize":21,"labelFontWeight":"bold","labelFont":"Liberation Sans","labelColor":"#1a1a1a","labelOffset":15,"rowPadding":4,"padding":0}}
    }},
   {"data":{"name":"ra"},"mark":{"type":"rule","strokeWidth":2.5},
    "encoding":{"x":{"field":"x","type":"quantitative"},"y":{"field":"y","type":"quantitative"},"y2":{"field":"y2"},"color":{"field":"s","type":"nominal"},"strokeDash":{"field":"s","type":"nominal"}}},
   {"data":{"name":"arrow"},"mark":{"type":"rule","strokeWidth":1.5,"color":"#111"},
    "encoding":{"x":{"field":"x","type":"quantitative"},"x2":{"field":"x2"},"y":{"field":"y","type":"quantitative"}}},
   {"data":{"name":"arrow"},"mark":{"type":"point","shape":"triangle-left","filled":true,"size":70,"color":"#111","opacity":1},
    "encoding":{"x":{"field":"x","type":"quantitative"},"y":{"field":"y","type":"quantitative"}}},
   {"data":{"name":"na"},"transform":[{"filter":"datum.k=='tag'"}],"mark":{"type":"text","align":"right","baseline":"middle","fontSize":22,"fontWeight":"bold"},
    "encoding":{"x":{"field":"x","type":"quantitative"},"y":{"field":"y","type":"quantitative"},"text":{"field":"t"}}},
   {"data":{"name":"na"},"transform":[{"filter":"datum.k=='note'"}],"mark":{"type":"text","align":"left","baseline":"middle","fontSize":22,"fontWeight":"bold"},
    "encoding":{"x":{"field":"x","type":"quantitative"},"y":{"field":"y","type":"quantitative"},"text":{"field":"t"}}},
   {"data":{"name":"na"},"transform":[{"filter":"datum.k=='greek'"}],"mark":{"type":"text","align":"left","baseline":"middle","fontSize":24,"font":"Liberation Serif","fontStyle":"italic"},
    "encoding":{"x":{"field":"x","type":"quantitative"},"y":{"field":"y","type":"quantitative"},"text":{"field":"t"}}},
   {"data":{"name":"na"},"transform":[{"filter":"datum.k=='deg'"}],"mark":{"type":"text","align":"left","baseline":"middle","fontSize":13},
    "encoding":{"x":{"field":"x","type":"quantitative"},"y":{"field":"y","type":"quantitative"},"text":{"field":"t"}}}
  ]},
 {"width":400,"height":280,
  "layer":[
   {"data":{"name":"c"},"mark":{"type":"line"},
    "encoding":{
     "x":{"field":"x","type":"quantitative","scale":{"domain":[1,50],"nice":false,"zero":false},"axis":{"values":[10,20,30,40,50],"labels":false,"title":null}},
     "y":{"field":"y","type":"quantitative","scale":{"domain":[0,0.2],"nice":false},"axis":{"values":[0,0.05,0.1,0.15,0.2],"format":".2f","title":null}},
     "color":{"field":"s","type":"nominal","scale":{"domain":["EESI spray","ESI spray","Sample spray","Average"],"range":["#0a0aff","#138a13","#ff0a0a","#0a0aff"]},"legend":null},
     "strokeDash":{"field":"s","type":"nominal","scale":{"domain":["EESI spray","ESI spray","Sample spray","Average"],"range":[[1,0],[2.5,2.5],[14,9],[9,3,2.5,3]]},"legend":null}
    }},
   {"data":{"name":"rc"},"mark":{"type":"rule","strokeWidth":2.5},
    "encoding":{"x":{"field":"x","type":"quantitative"},"y":{"field":"y","type":"quantitative"},"y2":{"field":"y2"},"color":{"field":"s","type":"nominal"},"strokeDash":{"field":"s","type":"nominal"}}},
   {"data":{"name":"nc"},"transform":[{"filter":"datum.k=='tag'"}],"mark":{"type":"text","align":"right","baseline":"middle","fontSize":22,"fontWeight":"bold"},
    "encoding":{"x":{"field":"x","type":"quantitative"},"y":{"field":"y","type":"quantitative"},"text":{"field":"t"}}},
   {"data":{"name":"nc"},"transform":[{"filter":"datum.k=='note'"}],"mark":{"type":"text","align":"left","baseline":"middle","fontSize":22,"fontWeight":"bold"},
    "encoding":{"x":{"field":"x","type":"quantitative"},"y":{"field":"y","type":"quantitative"},"text":{"field":"t"}}},
   {"data":{"name":"nc"},"transform":[{"filter":"datum.k=='greek'"}],"mark":{"type":"text","align":"left","baseline":"middle","fontSize":24,"font":"Liberation Serif","fontStyle":"italic"},
    "encoding":{"x":{"field":"x","type":"quantitative"},"y":{"field":"y","type":"quantitative"},"text":{"field":"t"}}},
   {"data":{"name":"nc"},"transform":[{"filter":"datum.k=='deg'"}],"mark":{"type":"text","align":"left","baseline":"middle","fontSize":13},
    "encoding":{"x":{"field":"x","type":"quantitative"},"y":{"field":"y","type":"quantitative"},"text":{"field":"t"}}}
  ]},
 {"width":401,"height":283,
  "layer":[
   {"data":{"name":"b"},"mark":{"type":"line"},
    "encoding":{
     "x":{"field":"x","type":"quantitative","scale":{"domain":[1,50],"nice":false,"zero":false},"axis":{"values":[10,20,30,40,50],"title":"Droplet size (μm)"}},
     "y":{"field":"y","type":"quantitative","scale":{"domain":[0,0.242],"nice":false},"axis":{"values":[0,0.05,0.1,0.15,0.2],"format":".2f","title":null}},
     "color":{"field":"s","type":"nominal","scale":{"domain":["EESI spray","ESI spray","Sample spray","Average"],"range":["#0a0aff","#138a13","#ff0a0a","#0a0aff"]},"legend":null},
     "strokeDash":{"field":"s","type":"nominal","scale":{"domain":["EESI spray","ESI spray","Sample spray","Average"],"range":[[1,0],[2.5,2.5],[14,9],[9,3,2.5,3]]},"legend":null}
    }},
   {"data":{"name":"rb"},"mark":{"type":"rule","strokeWidth":2.5},
    "encoding":{"x":{"field":"x","type":"quantitative"},"y":{"field":"y","type":"quantitative"},"y2":{"field":"y2"},"color":{"field":"s","type":"nominal"},"strokeDash":{"field":"s","type":"nominal"}}},
   {"data":{"name":"nb"},"transform":[{"filter":"datum.k=='tag'"}],"mark":{"type":"text","align":"right","baseline":"middle","fontSize":22,"fontWeight":"bold"},
    "encoding":{"x":{"field":"x","type":"quantitative"},"y":{"field":"y","type":"quantitative"},"text":{"field":"t"}}},
   {"data":{"name":"nb"},"transform":[{"filter":"datum.k=='note'"}],"mark":{"type":"text","align":"left","baseline":"middle","fontSize":22,"fontWeight":"bold"},
    "encoding":{"x":{"field":"x","type":"quantitative"},"y":{"field":"y","type":"quantitative"},"text":{"field":"t"}}},
   {"data":{"name":"nb"},"transform":[{"filter":"datum.k=='greek'"}],"mark":{"type":"text","align":"left","baseline":"middle","fontSize":24,"font":"Liberation Serif","fontStyle":"italic"},
    "encoding":{"x":{"field":"x","type":"quantitative"},"y":{"field":"y","type":"quantitative"},"text":{"field":"t"}}},
   {"data":{"name":"nb"},"transform":[{"filter":"datum.k=='deg'"}],"mark":{"type":"text","align":"left","baseline":"middle","fontSize":13},
    "encoding":{"x":{"field":"x","type":"quantitative"},"y":{"field":"y","type":"quantitative"},"text":{"field":"t"}}}
  ]},
 {"width":400,"height":283,
  "layer":[
   {"data":{"name":"d"},"mark":{"type":"line"},
    "encoding":{
     "x":{"field":"x","type":"quantitative","scale":{"domain":[1,50],"nice":false,"zero":false},"axis":{"values":[10,20,30,40,50],"title":"Droplet size (μm)"}},
     "y":{"field":"y","type":"quantitative","scale":{"domain":[0,0.0708],"nice":false},"axis":{"values":[0,0.02,0.04,0.06],"format":".2f","title":null}},
     "color":{"field":"s","type":"nominal","scale":{"domain":["EESI spray","ESI spray","Sample spray","Average"],"range":["#0a0aff","#138a13","#ff0a0a","#0a0aff"]},"legend":null},
     "strokeDash":{"field":"s","type":"nominal","scale":{"domain":["EESI spray","ESI spray","Sample spray","Average"],"range":[[1,0],[2.5,2.5],[14,9],[9,3,2.5,3]]},"legend":null}
    }},
   {"data":{"name":"rd"},"mark":{"type":"rule","strokeWidth":2.5},
    "encoding":{"x":{"field":"x","type":"quantitative"},"y":{"field":"y","type":"quantitative"},"y2":{"field":"y2"},"color":{"field":"s","type":"nominal"},"strokeDash":{"field":"s","type":"nominal"}}},
   {"data":{"name":"nd"},"transform":[{"filter":"datum.k=='tag'"}],"mark":{"type":"text","align":"right","baseline":"middle","fontSize":22,"fontWeight":"bold"},
    "encoding":{"x":{"field":"x","type":"quantitative"},"y":{"field":"y","type":"quantitative"},"text":{"field":"t"}}},
   {"data":{"name":"nd"},"transform":[{"filter":"datum.k=='note'"}],"mark":{"type":"text","align":"left","baseline":"middle","fontSize":22,"fontWeight":"bold"},
    "encoding":{"x":{"field":"x","type":"quantitative"},"y":{"field":"y","type":"quantitative"},"text":{"field":"t"}}},
   {"data":{"name":"nd"},"transform":[{"filter":"datum.k=='greek'"}],"mark":{"type":"text","align":"left","baseline":"middle","fontSize":24,"font":"Liberation Serif","fontStyle":"italic"},
    "encoding":{"x":{"field":"x","type":"quantitative"},"y":{"field":"y","type":"quantitative"},"text":{"field":"t"}}},
   {"data":{"name":"nd"},"transform":[{"filter":"datum.k=='deg'"}],"mark":{"type":"text","align":"left","baseline":"middle","fontSize":13},
    "encoding":{"x":{"field":"x","type":"quantitative"},"y":{"field":"y","type":"quantitative"},"text":{"field":"t"}}}
  ]}
]
}
